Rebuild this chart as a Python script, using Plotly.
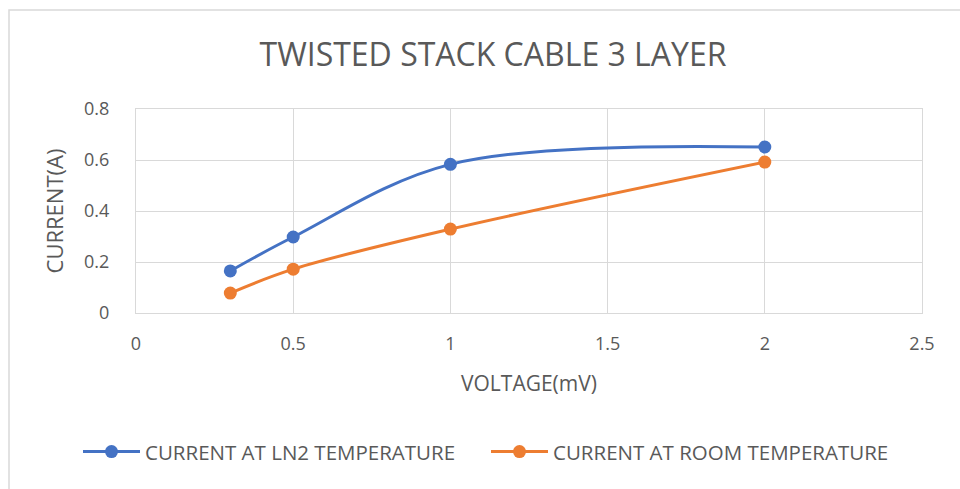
import plotly.graph_objects as go

voltage = [0.3, 0.5, 1, 2]
current_ln2 = [0.165, 0.298, 0.583, 0.651]
current_room = [0.078, 0.172, 0.329, 0.592]

title_text = "TWISTED STACK CABLE 3 LAYER"
x_title = "VOLTAGE(mV)"
y_title = "CURRENT(A)"
name_ln2 = "CURRENT AT LN2 TEMPERATURE"
name_room = "CURRENT AT ROOM TEMPERATURE"

FONT = "Open Sans"
GRAY = "#595959"
GRID = "#d9d9d9"

fig = go.Figure()
fig.add_trace(go.Scatter(
    x=voltage, y=current_ln2, name=name_ln2, mode="lines+markers",
    line=dict(color="#4472c4", width=3, shape="spline", smoothing=1),
    marker=dict(size=13, color="#4472c4"), legend="legend",
))
fig.add_trace(go.Scatter(
    x=voltage, y=current_room, name=name_room, mode="lines+markers",
    line=dict(color="#ed7d31", width=3, shape="spline", smoothing=1),
    marker=dict(size=13, color="#ed7d31"), legend="legend2",
))

legend_style = dict(orientation="h", y=-0.68, yanchor="middle", itemwidth=57,
                    font=dict(size=20.5), bgcolor="rgba(0,0,0,0)")

fig.update_layout(
    width=960, height=489,
    margin=dict(l=136, r=38, t=109, b=176),
    paper_bgcolor="white", plot_bgcolor="white",
    font=dict(family=FONT, color=GRAY, size=18),
    title=dict(text=title_text, x=(493 - 136) / 786, xref="paper", xanchor="center",
               y=0.8875, yanchor="middle",
               font=dict(family=FONT, size=32, color=GRAY)),
    xaxis=dict(range=[0, 2.5], dtick=0.5, tick0=0, showgrid=True, gridcolor=GRID,
               zeroline=False, showline=True, linecolor=GRID, mirror=True,
               ticks="", ticklabelstandoff=14,
               title=dict(text=x_title, standoff=22, font=dict(size=21)),
               tickfont=dict(size=18)),
    yaxis=dict(range=[0, 0.8], dtick=0.2, tick0=0, showgrid=True, gridcolor=GRID,
               zeroline=False, showline=True, linecolor=GRID, mirror=True,
               ticks="", ticklabelstandoff=22,
               title=dict(text=y_title, standoff=14, font=dict(size=22)),
               tickfont=dict(size=18)),
    legend=dict(x=(78 - 136) / 786, xanchor="left", **legend_style),
    legend2=dict(x=(486 - 136) / 786, xanchor="left", **legend_style),
    showlegend=True,
)

# chart outer frame
fig.add_shape(type="rect", xref="paper", yref="paper",
              x0=(9 - 136) / 786, x1=1.1, y0=-1.0, y1=(313 - 10) / 204,
              line=dict(color="#d9d9d9", width=1.5), fillcolor="rgba(0,0,0,0)", layer="below")

fig.write_html("out.html")
